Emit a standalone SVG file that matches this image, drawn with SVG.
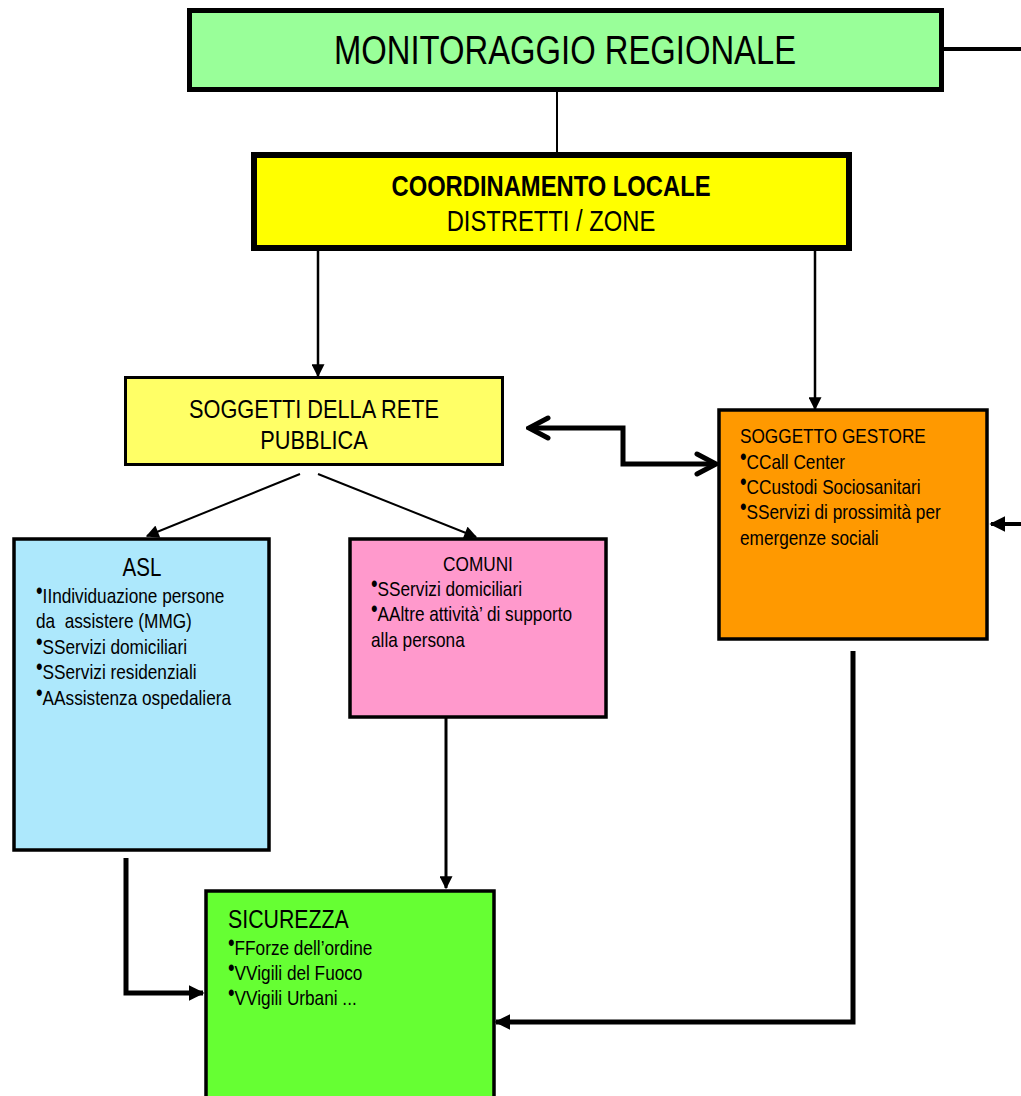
<svg xmlns="http://www.w3.org/2000/svg" width="1021" height="1096" viewBox="0 0 1021 1096">
<style>
.t{font-family:"Liberation Sans",Arial,sans-serif;fill:#000}
.s21{font-size:21px}
.b{font-size:23px}
.box{stroke:#000}
.ln{fill:none;stroke:#000;stroke-linejoin:miter}
</style>
<defs>
<marker id="tri" viewBox="0 0 10 10" refX="9" refY="5" markerUnits="userSpaceOnUse" markerWidth="15" markerHeight="13" orient="auto"><path d="M0,0 L10,5 L0,10 z" fill="#000"/></marker>
<marker id="triB" viewBox="0 0 10 10" refX="9" refY="5" markerUnits="userSpaceOnUse" markerWidth="16" markerHeight="16" orient="auto"><path d="M0,0 L10,5 L0,10 z" fill="#000"/></marker>
<marker id="chev" viewBox="-2 -2 26 26" refX="21" refY="11" markerUnits="userSpaceOnUse" markerWidth="26" markerHeight="26" orient="auto-start-reverse"><path d="M2,1 L21,11 L2,21" fill="none" stroke="#000" stroke-width="5" stroke-linecap="round"/></marker>
</defs>
<g id="connectors">
<line class="ln" x1="557" y1="91" x2="557" y2="153" stroke-width="2"/>
<line class="ln" x1="944" y1="49" x2="1021" y2="49" stroke-width="4"/>
<path class="ln" d="M318,251 V376" stroke-width="2.5" marker-end="url(#tri)"/>
<path class="ln" d="M815,251 V409" stroke-width="2.5" marker-end="url(#tri)"/>
<path class="ln" d="M529,428 H623 V464 H716" stroke-width="5" marker-start="url(#chev)" marker-end="url(#chev)"/>
<path class="ln" d="M300,474 L147,536" stroke-width="2" marker-end="url(#tri)"/>
<path class="ln" d="M318,474 L476,537" stroke-width="2" marker-end="url(#tri)"/>
<path class="ln" d="M1021,524 H991" stroke-width="4" marker-end="url(#triB)"/>
<path class="ln" d="M446,717 V888" stroke-width="3" marker-end="url(#tri)"/>
<path class="ln" d="M126,858 V993 H203" stroke-width="5" marker-end="url(#triB)"/>
<path class="ln" d="M853,651 V1022 H496" stroke-width="5" marker-end="url(#triB)"/>
</g>
<g id="monitoraggio">
<rect class="box" x="189.5" y="10.5" width="752" height="79" fill="#99FF99" stroke-width="5"/>
<text class="t" transform="matrix(0.82 0 0 1 565 0)" x="0" y="64" font-size="40" text-anchor="middle">MONITORAGGIO REGIONALE</text>
</g>
<g id="coordinamento">
<rect class="box" x="254" y="155" width="595" height="93" fill="#FFFF00" stroke-width="6"/>
<text class="t" transform="matrix(0.82 0 0 1 551 0)" x="0" y="196" font-size="29" font-weight="bold" text-anchor="middle">COORDINAMENTO LOCALE</text>
<text class="t" transform="matrix(0.82 0 0 1 551 0)" x="0" y="231" font-size="29" text-anchor="middle">DISTRETTI / ZONE</text>
</g>
<g id="soggetti">
<rect class="box" x="125.5" y="377.5" width="377" height="87" fill="#FFFF66" stroke-width="3"/>
<text class="t" transform="matrix(0.82 0 0 1 314 0)" x="0" y="418" font-size="26.5" text-anchor="middle">SOGGETTI DELLA RETE</text>
<text class="t" transform="matrix(0.82 0 0 1 314 0)" x="0" y="449" font-size="26.5" text-anchor="middle">PUBBLICA</text>
</g>
<g id="gestore">
<rect class="box" x="719" y="410" width="268" height="229" fill="#FF9900" stroke-width="3.5"/>
<g transform="matrix(0.82 0 0 1 740 0)">
<text class="t s21" x="0" y="443">SOGGETTO GESTORE</text>
<text class="t s21" x="0" y="469"><tspan class="b" dy="-4">•</tspan><tspan dy="4">CCall Center</tspan></text>
<text class="t s21" x="0" y="494"><tspan class="b" dy="-4">•</tspan><tspan dy="4">CCustodi Sociosanitari</tspan></text>
<text class="t s21" x="0" y="519"><tspan class="b" dy="-4">•</tspan><tspan dy="4">SServizi di prossimità per</tspan></text>
<text class="t s21" x="0" y="545">emergenze sociali</text>
</g>
</g>
<g id="asl">
<rect class="box" x="14" y="539" width="255" height="311" fill="#ADE8FC" stroke-width="3.5"/>
<text class="t" transform="matrix(0.82 0 0 1 142 0)" x="0" y="576" font-size="25" text-anchor="middle">ASL</text>
<g transform="matrix(0.82 0 0 1 36 0)">
<text class="t s21" x="0" y="603"><tspan class="b" dy="-4">•</tspan><tspan dy="4">IIndividuazione persone</tspan></text>
<text class="t s21" x="0" y="628.5" xml:space="preserve">da  assistere (MMG)</text>
<text class="t s21" x="0" y="654"><tspan class="b" dy="-4">•</tspan><tspan dy="4">SServizi domiciliari</tspan></text>
<text class="t s21" x="0" y="679.5"><tspan class="b" dy="-4">•</tspan><tspan dy="4">SServizi residenziali</tspan></text>
<text class="t s21" x="0" y="705"><tspan class="b" dy="-4">•</tspan><tspan dy="4">AAssistenza ospedaliera</tspan></text>
</g>
</g>
<g id="comuni">
<rect class="box" x="350" y="539" width="256" height="178" fill="#FF99CC" stroke-width="3.5"/>
<text class="t s21" transform="matrix(0.82 0 0 1 478 0)" x="0" y="571" text-anchor="middle">COMUNI</text>
<g transform="matrix(0.82 0 0 1 371 0)">
<text class="t s21" x="0" y="596"><tspan class="b" dy="-4">•</tspan><tspan dy="4">SServizi domiciliari</tspan></text>
<text class="t s21" x="0" y="621.5"><tspan class="b" dy="-4">•</tspan><tspan dy="4">AAltre attività’ di supporto</tspan></text>
<text class="t s21" x="0" y="647">alla persona</text>
</g>
</g>
<g id="sicurezza">
<rect class="box" x="206" y="891" width="288" height="212" fill="#66FF33" stroke-width="3.5"/>
<g transform="matrix(0.82 0 0 1 228 0)">
<text class="t" x="0" y="928" font-size="26">SICUREZZA</text>
<text class="t s21" x="0" y="955"><tspan class="b" dy="-4">•</tspan><tspan dy="4">FForze dell’ordine</tspan></text>
<text class="t s21" x="0" y="980"><tspan class="b" dy="-4">•</tspan><tspan dy="4">VVigili del Fuoco</tspan></text>
<text class="t s21" x="0" y="1005"><tspan class="b" dy="-4">•</tspan><tspan dy="4">VVigili Urbani ...</tspan></text>
</g>
</g>
</svg>
